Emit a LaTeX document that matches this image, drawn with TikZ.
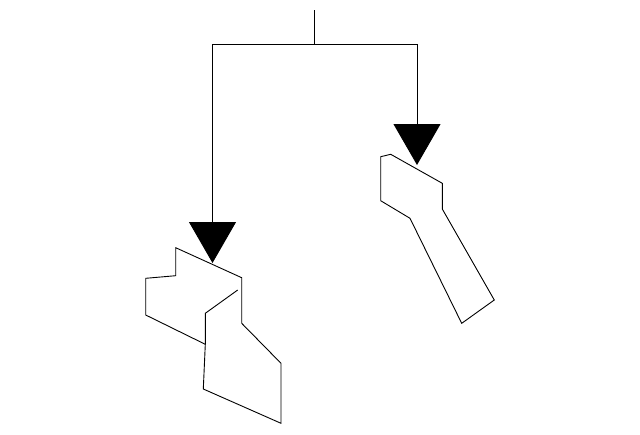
\documentclass[tikz,border=0pt]{standalone}
\usetikzlibrary{arrows.meta}
\begin{document}
\begin{tikzpicture}[x=1pt,y=-1pt,line width=0.9pt,line join=miter,
  drop/.style={-{Triangle[width=47pt,length=41pt]}}]
  \useasboundingbox (0,0) rectangle (640,434);

  \coordinate (R) at (314, 10);
  \coordinate (S) at (314, 44);
  \coordinate (AT) at (212.5, 263);
  \coordinate (BT) at (417, 165);

  \draw (R) -- (S);
  \draw[drop] (S) -| (AT);
  \draw[drop] (S) -| (BT);

  \draw (175.7, 247.7) -- (241.7, 277.7) -- (241.7, 323.3) -- (281, 363.3)
    -- (281, 423.3) -- (203.3, 389) -- (205.3, 344.3) -- (145.7, 315)
    -- (145.7, 278.3) -- (175.7, 275.7) -- cycle;
  \draw (237.7, 290) -- (205.3, 313.3) -- (205.3, 344.3);

  \draw (380.7, 156.7) -- (390.7, 154.3) -- (442.3, 183.3) -- (442.3, 209)
    -- (494.3, 300) -- (461.7, 323.3) -- (410, 218.3) -- (380.7, 200.7) -- cycle;
\end{tikzpicture}
\end{document}
